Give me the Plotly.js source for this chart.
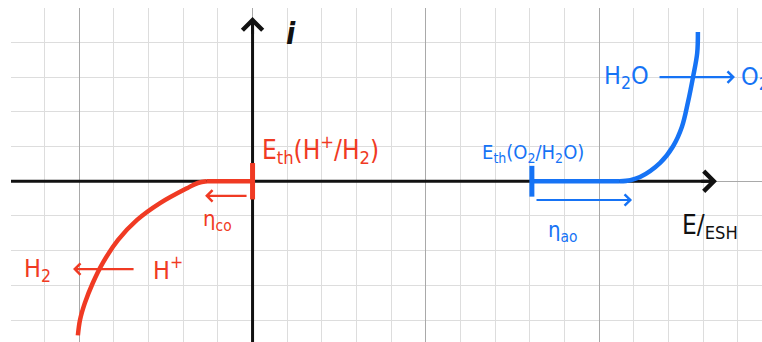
<!DOCTYPE html>
<html>
<head>
<meta charset="utf-8">
<script src="https://cdn.plot.ly/plotly-3.0.1.min.js"></script>
<style>
  html, body { margin: 0; padding: 0; background: #ffffff; }
  #chart { width: 762px; height: 342px; }
</style>
</head>
<body>
<div id="chart"></div>
<script>
// Potential (E) and current (i) in grid units, one cell = one unit.
// Cathodic branch: reduction H+ -> H2 (first two points = zero-current plateau)
const cathodeE = [0, -1.32, -1.58, -1.89, -2.67, -3.34, -3.88, -4.32, -4.61, -4.84, -4.98, -5.04];
const cathodeI = [0, 0, -0.05, -0.20, -0.63, -1.12, -1.69, -2.35, -2.93, -3.51, -4.00, -4.44];

// Anodic branch: oxidation H2O -> O2 (first two points = zero-current plateau)
const anodeE = [8.06, 10.60, 10.90, 11.18, 11.76, 12.13, 12.39, 12.56, 12.71, 12.83, 12.85];
const anodeI = [0, 0, 0.03, 0.12, 0.53, 1.00, 1.57, 2.26, 3.00, 3.69, 4.30];

// Thermodynamic equilibrium potentials E_th(H+/H2) and E_th(O2/H2O)
const eqE = [0, 8.06];
const eqI = [0, 0];

const RED = '#f03a23';
const BLUE = '#1673f5';
const INK = '#111111';
const HAND = '"DejaVu Sans Condensed", "Liberation Sans Narrow", "DejaVu Sans", sans-serif';

// A branch is drawn as its flat plateau plus the smooth rising part
function branch(E, I, color) {
  return [
    {
      x: E.slice(0, 2), y: I.slice(0, 2), type: 'scatter', mode: 'lines',
      line: { color: color, width: 4.5 }, hoverinfo: 'skip'
    },
    {
      x: E.slice(1), y: I.slice(1), type: 'scatter', mode: 'lines',
      line: { color: color, width: 4.5, shape: 'spline', smoothing: 1 },
      hoverinfo: 'skip'
    }
  ];
}

const traces = [
  ...branch(cathodeE, cathodeI, RED),
  ...branch(anodeE, anodeI, BLUE),
  {
    x: [eqE[0]], y: [eqI[0]], type: 'scatter', mode: 'markers',
    marker: { symbol: 'line-ns', size: 26, line: { width: 5, color: RED } },
    hoverinfo: 'skip'
  },
  {
    x: [eqE[1]], y: [eqI[1]], type: 'scatter', mode: 'markers',
    marker: { symbol: 'line-ns', size: 22, line: { width: 5, color: BLUE } },
    hoverinfo: 'skip'
  }
];

// Arrow helper: head at (x, y), tail at (ax, ay), both in data units
function arrow(x, y, ax, ay, color, width, size) {
  return {
    x: x, y: y, ax: ax, ay: ay, xref: 'x', yref: 'y', axref: 'x', ayref: 'y',
    text: '', showarrow: true, arrowhead: 4, arrowsize: size,
    arrowwidth: width, arrowcolor: color
  };
}

function label(x, y, text, color, size, xanchor) {
  return {
    x: x, y: y, xref: 'x', yref: 'y', text: text, showarrow: false,
    xanchor: xanchor || 'center', yanchor: 'middle',
    font: { family: HAND, size: size, color: color }
  };
}

const annotations = [
  // axis arrow heads
  arrow(13.4, 0, 12.9, 0, INK, 3, 1.3),
  arrow(0, 4.73, 0, 4.2, INK, 3, 1.3),
  // axis names
  {
    x: 1.11, y: 4.27, xref: 'x', yref: 'y', text: '<b><i>i</i></b>', showarrow: false,
    font: { family: HAND, size: 30, color: INK }
  },
  label(13.2, -1.3, 'E/<sub>ESH</sub>', INK, 26),

  // cathodic annotations
  label(0.22, 0.92, 'E<sub>th</sub>(H<sup>+</sup>/H<sub>2</sub>)', RED, 26, 'left'),
  arrow(-1.37, -0.42, -0.13, -0.42, RED, 2.2, 1),
  label(-1.0, -1.12, 'η<sub>co</sub>', RED, 22),
  arrow(-5.18, -2.53, -3.39, -2.53, RED, 2.2, 1),
  label(-6.2, -2.55, 'H<sub>2</sub>', RED, 25),
  label(-2.45, -2.5, 'H<sup>+</sup>', RED, 25),

  // anodic annotations
  label(6.55, 0.82, 'E<sub>th</sub>(O<sub>2</sub>/H<sub>2</sub>O)', BLUE, 20, 'left'),
  arrow(10.95, -0.54, 8.15, -0.54, BLUE, 2.2, 1),
  label(8.95, -1.46, 'η<sub>ao</sub>', BLUE, 22),
  label(10.8, 3.0, 'H<sub>2</sub>O', BLUE, 25),
  arrow(13.92, 3.0, 11.7, 3.0, BLUE, 2.2, 1),
  label(14.05, 2.98, 'O<sub>2</sub>', BLUE, 25, 'left')
];

const shapes = [
  // E axis
  { type: 'line', xref: 'x', yref: 'y', x0: -6.97, y0: 0, x1: 13.3, y1: 0,
    line: { color: INK, width: 3 }, layer: 'between' },
  // i axis
  { type: 'line', xref: 'x', yref: 'y', x0: 0, y0: -4.63, x1: 0, y1: 4.65,
    line: { color: INK, width: 3 }, layer: 'between' }
];

const gridAxis = (range) => ({
  range: range, tick0: 0, dtick: 5,
  showgrid: true, gridcolor: '#a9a9a9', gridwidth: 1,
  minor: { tick0: 0, dtick: 1, showgrid: true, gridcolor: '#dddddd', gridwidth: 1 },
  zeroline: false, showline: false, showticklabels: false, ticks: '',
  fixedrange: true
});

const layout = {
  width: 762, height: 342,
  margin: { l: 11, r: 0, t: 8, b: 0 },
  paper_bgcolor: '#ffffff', plot_bgcolor: '#ffffff',
  showlegend: false,
  xaxis: gridAxis([-6.97, 14.70]),
  yaxis: gridAxis([-4.63, 4.99]),
  shapes: shapes,
  annotations: annotations
};

Plotly.newPlot('chart', traces, layout, { staticPlot: true, displayModeBar: false });
</script>
</body>
</html>
